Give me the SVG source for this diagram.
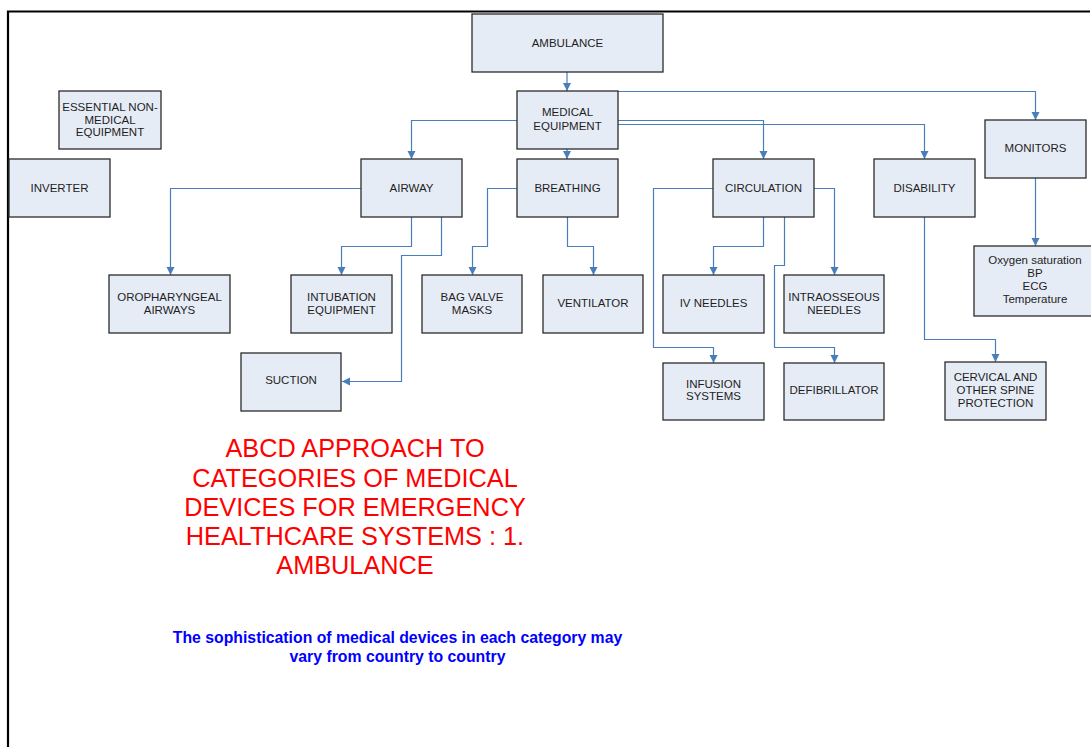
<svg xmlns="http://www.w3.org/2000/svg" width="1091" height="747" viewBox="0 0 1091 747">
  <style>
    .box { fill: #e6ecf6; stroke: #2b2b2b; stroke-width: 1.3; }
    .lbl { font-family: "Liberation Sans", Arial, sans-serif; font-size: 11.5px; fill: #1e1e1e; text-anchor: middle; }
    .wire { fill: none; stroke: #4a7ebb; stroke-width: 1.2; }
    .title { font-family: "Liberation Sans", Arial, sans-serif; font-size: 25.3px; fill: #ff0000; text-anchor: middle; }
    .note { font-family: "Liberation Sans", Arial, sans-serif; font-size: 15.8px; font-weight: bold; fill: #0000ff; text-anchor: middle; }
  </style>
  <defs>
    <marker id="arrow" markerUnits="userSpaceOnUse" markerWidth="9" markerHeight="9" refX="8" refY="4.5" orient="auto">
      <path d="M0,0.5 L8,4.5 L0,8.5 z" fill="#4a7ebb"/>
    </marker>
  </defs>

  <rect width="1091" height="747" fill="#ffffff"/>
  <!-- page frame -->
  <path d="M8,760 V11.5 H1090" fill="none" stroke="#000" stroke-width="2.2"/>

  <!-- connectors -->
  <g id="connectors" class="wire" marker-end="url(#arrow)">
    <path d="M567,72 V91"/>
    <path d="M517,120.5 H411.5 V159"/>
    <path d="M567,149 V159"/>
    <path d="M618,120.5 H763.5 V159"/>
    <path d="M618,124.5 H924.5 V159"/>
    <path d="M618,91.5 H1035.5 V120"/>
    <path d="M361,188.5 H170.5 V275"/>
    <path d="M411.5,217 V246.5 H341.5 V275"/>
    <path d="M441.5,217 V255.5 H401.5 V381.5 H342"/>
    <path d="M517,188.5 H487.5 V246.5 H472.5 V275"/>
    <path d="M567.5,217 V246.5 H593.5 V275"/>
    <path d="M713,188.5 H653.5 V347.5 H713.5 V363"/>
    <path d="M763.5,217 V246.5 H713.5 V275"/>
    <path d="M784.5,217 V265.5 H774.5 V347.5 H834.5 V363"/>
    <path d="M814,188.5 H834.5 V275"/>
    <path d="M924.5,217 V339.5 H995.5 V362"/>
    <path d="M1035.5,178 V246"/>
  </g>

  <g id="ambulance"><rect class="box" x="472" y="14" width="191" height="58"/><text class="lbl" x="567.5" y="47">AMBULANCE</text></g>
  <g id="medical-equipment"><rect class="box" x="517" y="91" width="101" height="58"/><text class="lbl" x="567.5" y="116">MEDICAL</text><text class="lbl" x="567.5" y="130">EQUIPMENT</text></g>
  <g id="non-medical"><rect class="box" x="59" y="91" width="102" height="58"/><text class="lbl" x="110" y="111">ESSENTIAL NON-</text><text class="lbl" x="110" y="123.5">MEDICAL</text><text class="lbl" x="110" y="136">EQUIPMENT</text></g>
  <g id="inverter"><rect class="box" x="9" y="159" width="101" height="58"/><text class="lbl" x="59.5" y="192">INVERTER</text></g>
  <g id="airway"><rect class="box" x="361" y="159" width="101" height="58"/><text class="lbl" x="411.5" y="192">AIRWAY</text></g>
  <g id="breathing"><rect class="box" x="517" y="159" width="101" height="58"/><text class="lbl" x="567.5" y="192">BREATHING</text></g>
  <g id="circulation"><rect class="box" x="713" y="159" width="101" height="58"/><text class="lbl" x="763.5" y="192">CIRCULATION</text></g>
  <g id="disability"><rect class="box" x="874" y="159" width="101" height="58"/><text class="lbl" x="924.5" y="192">DISABILITY</text></g>
  <g id="monitors"><rect class="box" x="985" y="120" width="101" height="58"/><text class="lbl" x="1035.5" y="152">MONITORS</text></g>
  <g id="monitor-list"><rect class="box" x="974" y="246" width="120" height="70"/><text class="lbl" x="1035" y="264">Oxygen saturation</text><text class="lbl" x="1035" y="277">BP</text><text class="lbl" x="1035" y="290">ECG</text><text class="lbl" x="1035" y="303">Temperature</text></g>
  <g id="oropharyngeal"><rect class="box" x="109" y="275" width="121" height="58"/><text class="lbl" x="169.5" y="301">OROPHARYNGEAL</text><text class="lbl" x="169.5" y="314">AIRWAYS</text></g>
  <g id="intubation"><rect class="box" x="291" y="275" width="101" height="58"/><text class="lbl" x="341.5" y="301">INTUBATION</text><text class="lbl" x="341.5" y="314">EQUIPMENT</text></g>
  <g id="bag-valve"><rect class="box" x="422" y="275" width="100" height="58"/><text class="lbl" x="472" y="301">BAG VALVE</text><text class="lbl" x="472" y="314">MASKS</text></g>
  <g id="ventilator"><rect class="box" x="543" y="275" width="100" height="58"/><text class="lbl" x="593" y="307">VENTILATOR</text></g>
  <g id="iv-needles"><rect class="box" x="663" y="275" width="101" height="58"/><text class="lbl" x="713.5" y="307">IV NEEDLES</text></g>
  <g id="intraosseous"><rect class="box" x="784" y="275" width="100" height="58"/><text class="lbl" x="834" y="301">INTRAOSSEOUS</text><text class="lbl" x="834" y="314">NEEDLES</text></g>
  <g id="suction"><rect class="box" x="241" y="353" width="100" height="58"/><text class="lbl" x="291" y="384">SUCTION</text></g>
  <g id="infusion"><rect class="box" x="663" y="363" width="101" height="57"/><text class="lbl" x="713.5" y="388">INFUSION</text><text class="lbl" x="713.5" y="400">SYSTEMS</text></g>
  <g id="defibrillator"><rect class="box" x="784" y="363" width="100" height="57"/><text class="lbl" x="834" y="394">DEFIBRILLATOR</text></g>
  <g id="spine"><rect class="box" x="945" y="362" width="101" height="58"/><text class="lbl" x="995.5" y="381">CERVICAL AND</text><text class="lbl" x="995.5" y="394">OTHER SPINE</text><text class="lbl" x="995.5" y="407">PROTECTION</text></g>

  <g id="heading">
    <text class="title" x="355" y="457">ABCD APPROACH TO</text>
    <text class="title" x="355" y="487">CATEGORIES OF MEDICAL</text>
    <text class="title" x="355" y="516">DEVICES FOR EMERGENCY</text>
    <text class="title" x="355" y="545">HEALTHCARE SYSTEMS : 1.</text>
    <text class="title" x="355" y="574">AMBULANCE</text>
  </g>
  <g id="footnote">
    <text class="note" x="397.5" y="643">The sophistication of medical devices in each category may</text>
    <text class="note" x="397.5" y="662">vary from country to country</text>
  </g>
</svg>
